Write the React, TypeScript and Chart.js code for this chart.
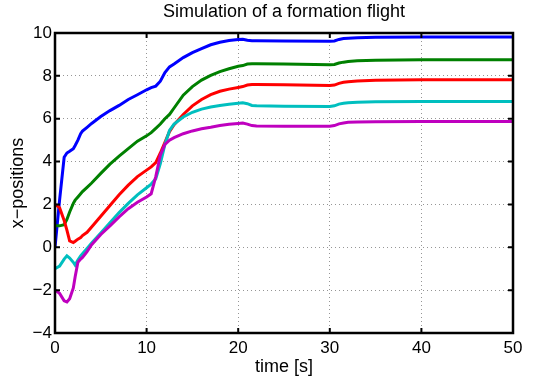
import React, { useEffect, useRef } from "react";
import { Chart, registerables } from "chart.js";

Chart.register(...registerables);

const timeS = [0, 0.5, 1, 1.3, 1.6, 2, 2.2, 2.5, 2.8, 3, 3.5, 4, 5, 6, 7, 8, 9, 10, 10.5, 11, 11.5, 12, 12.5, 13, 14, 15, 16, 17, 18, 19, 20, 20.5, 21, 21.5, 22, 25, 30, 30.5, 31, 31.5, 32, 33, 35, 40, 45, 50];

const blueX = [0, 2.2, 4.2, 4.4, 4.48, 4.6, 4.75, 5.0, 5.3, 5.42, 5.6, 5.78, 6.1, 6.38, 6.62, 6.9, 7.12, 7.35, 7.45, 7.52, 7.75, 8.15, 8.42, 8.55, 8.85, 9.08, 9.27, 9.45, 9.57, 9.65, 9.7, 9.71, 9.66, 9.64, 9.64, 9.63, 9.62, 9.63, 9.7, 9.74, 9.76, 9.78, 9.8, 9.81, 9.81, 9.81];

const greenX = [1.0, 1.0, 1.05, 1.3, 1.65, 2.05, 2.2, 2.35, 2.5, 2.6, 2.8, 3.0, 3.45, 3.88, 4.25, 4.6, 4.95, 5.2, 5.35, 5.55, 5.75, 6.0, 6.2, 6.5, 7.1, 7.5, 7.8, 8.02, 8.2, 8.33, 8.45, 8.48, 8.55, 8.57, 8.57, 8.55, 8.52, 8.53, 8.6, 8.64, 8.67, 8.7, 8.73, 8.75, 8.75, 8.75];

const redX = [2.0, 1.85, 1.25, 0.8, 0.3, 0.22, 0.28, 0.38, 0.45, 0.55, 0.7, 0.95, 1.45, 1.95, 2.45, 2.9, 3.3, 3.6, 3.75, 3.95, 4.4, 4.9, 5.4, 5.72, 6.2, 6.6, 6.9, 7.12, 7.28, 7.38, 7.46, 7.5, 7.57, 7.6, 7.6, 7.58, 7.55, 7.57, 7.65, 7.7, 7.73, 7.76, 7.8, 7.82, 7.82, 7.82];

const cyanX = [-1.0, -0.88, -0.55, -0.4, -0.5, -0.7, -0.83, -0.6, -0.4, -0.3, -0.05, 0.2, 0.67, 1.15, 1.62, 2.05, 2.45, 2.78, 2.95, 3.2, 3.9, 4.8, 5.45, 5.75, 6.08, 6.3, 6.45, 6.55, 6.62, 6.68, 6.72, 6.74, 6.7, 6.62, 6.6, 6.58, 6.57, 6.6, 6.68, 6.72, 6.75, 6.77, 6.79, 6.8, 6.8, 6.8];

const magentaX = [-2.0, -2.15, -2.5, -2.55, -2.4, -1.9, -1.37, -0.7, -0.55, -0.47, -0.2, 0.12, 0.6, 1.0, 1.42, 1.8, 2.1, 2.35, 2.5, 3.3, 4.3, 4.8, 5.0, 5.12, 5.3, 5.43, 5.53, 5.6, 5.68, 5.74, 5.78, 5.8, 5.75, 5.68, 5.66, 5.65, 5.65, 5.68, 5.76, 5.8, 5.83, 5.85, 5.86, 5.87, 5.87, 5.87];

const xTicks = [0, 10, 20, 30, 40, 50];
const yTicks = [-4, -2, 0, 2, 4, 6, 8, 10];

const titleText = "Simulation of a formation flight";
const xLabel = "time [s]";
const yLabel = "x\u2212positions";

const FONT = "'Liberation Sans', Arial, Helvetica, sans-serif";

const toPts = (ys: number[]) => timeS.map((t, i) => ({ x: t, y: ys[i] }));

const framePlugin = {
  id: "matlabFrame",
  afterDatasetsDraw(chart: any) {
    const { ctx, chartArea } = chart;
    const { left, right, top, bottom } = chartArea;
    const xs = chart.scales.x;
    const ys = chart.scales.y;
    ctx.save();
    ctx.strokeStyle = "#000";
    ctx.lineWidth = 2.5;
    ctx.strokeRect(left, top, right - left, bottom - top);
    ctx.lineWidth = 2;
    const tl = 5;
    ctx.beginPath();
    xTicks.forEach((v) => {
      const px = xs.getPixelForValue(v);
      ctx.moveTo(px, bottom);
      ctx.lineTo(px, bottom - tl);
      ctx.moveTo(px, top);
      ctx.lineTo(px, top + tl);
    });
    yTicks.forEach((v) => {
      const py = ys.getPixelForValue(v);
      ctx.moveTo(left, py);
      ctx.lineTo(left + tl, py);
      ctx.moveTo(right, py);
      ctx.lineTo(right - tl, py);
    });
    ctx.stroke();

    ctx.fillStyle = "#000";
    ctx.font = `18px ${FONT}`;
    ctx.textAlign = "center";
    ctx.textBaseline = "middle";
    const cx = (left + right) / 2;
    ctx.fillText(titleText, cx, 12);
    ctx.fillText(xLabel, cx, 367);
    ctx.translate(18, (top + bottom) / 2);
    ctx.rotate(-Math.PI / 2);
    ctx.fillText(yLabel, 0, 0);
    ctx.restore();
  },
};

export default function App() {
  const ref = useRef<HTMLCanvasElement | null>(null);
  useEffect(() => {
    if (!ref.current) return;
    const mk = (label: string, data: number[], color: string, order: number) => ({
      label,
      data: toPts(data),
      borderColor: color,
      backgroundColor: color,
      borderWidth: 3,
      pointRadius: 0,
      tension: 0,
      fill: false,
      order,
    });
    const chart = new Chart(ref.current, {
      type: "line",
      data: {
        datasets: [
          mk("agent 1", blueX, "#0000ff", 5),
          mk("agent 2", greenX, "#008000", 4),
          mk("agent 3", redX, "#ff0000", 3),
          mk("agent 4", cyanX, "#00bfbf", 2),
          mk("agent 5", magentaX, "#bf00bf", 1),
        ],
      },
      plugins: [framePlugin],
      options: {
        animation: false,
        responsive: false,
        devicePixelRatio: 1,
        layout: { padding: { top: 33, right: 22, left: 0, bottom: 0 } },
        plugins: {
          legend: { display: false },
          title: { display: false },
          tooltip: { enabled: false },
        },
        scales: {
          x: {
            type: "linear",
            min: 0,
            max: 50,
            afterFit: (s: any) => {
              s.height = 48;
            },
            afterBuildTicks: (s: any) => {
              s.ticks = xTicks.map((v) => ({ value: v }));
            },
            ticks: {
              color: "#000",
              font: { family: FONT, size: 17 },
              padding: 5,
              maxRotation: 0,
              autoSkip: false,
            },
            grid: {
              color: "rgba(80,80,80,0.6)",
              lineWidth: 1,
              drawTicks: false,
            },
            border: { display: false, dash: [1, 3] },
          },
          y: {
            type: "linear",
            min: -4,
            max: 10,
            afterFit: (s: any) => {
              s.width = 55;
            },
            afterBuildTicks: (s: any) => {
              s.ticks = yTicks.map((v) => ({ value: v }));
            },
            ticks: {
              color: "#000",
              font: { family: FONT, size: 17 },
              padding: 3,
              autoSkip: false,
              callback: (v: any) => String(v).replace("-", "\u2212"),
            },
            grid: {
              color: "rgba(80,80,80,0.6)",
              lineWidth: 1,
              drawTicks: false,
            },
            border: { display: false, dash: [1, 3] },
          },
        },
      },
    });
    return () => chart.destroy();
  }, []);
  return (
    <div style={{ position: "absolute", left: 0, top: 0, width: 535, height: 381, background: "#fff" }}>
      <canvas ref={ref} width={535} height={381} style={{ display: "block" }} />
    </div>
  );
}
